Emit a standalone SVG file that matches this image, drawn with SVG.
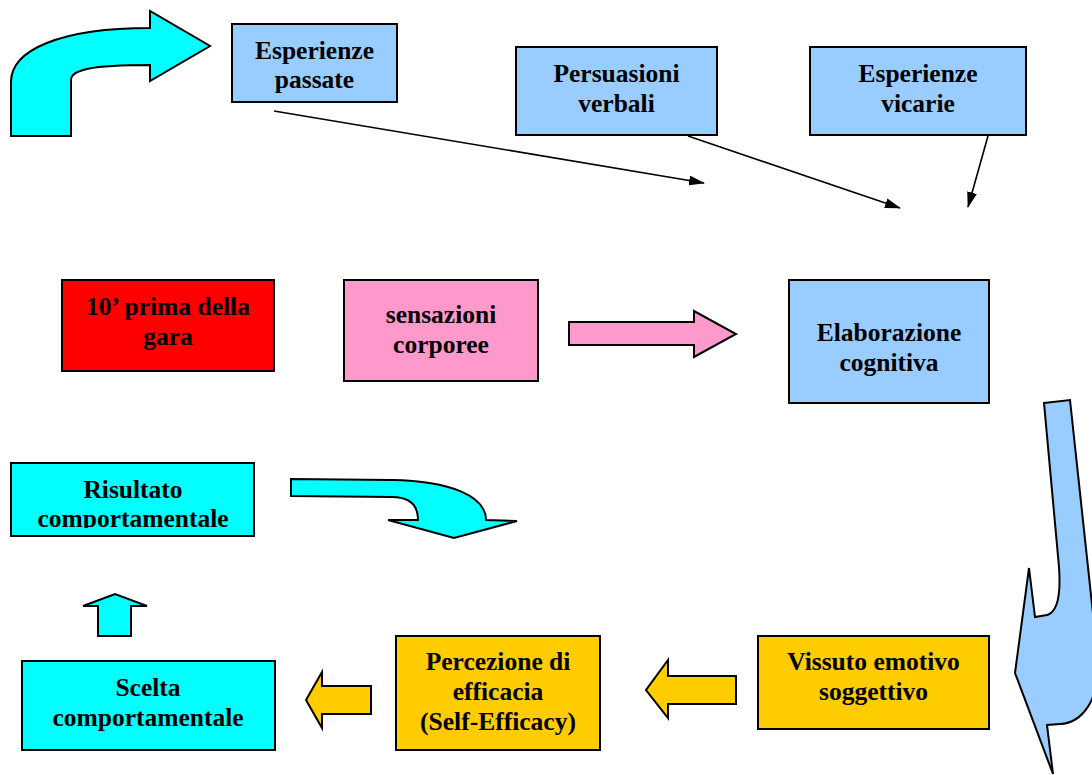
<svg xmlns="http://www.w3.org/2000/svg" width="1092" height="775" viewBox="0 0 1092 775">
<style>
.box{stroke:#000;stroke-width:2}
.blue{fill:#99CCFF}.red{fill:#FF0000}.pink{fill:#FF99CC}.cyan{fill:#00FFFF}.yellow{fill:#FFCC00}
.shape{stroke:#000;stroke-width:2;stroke-linejoin:miter}
.t{font-family:"Liberation Serif","Times New Roman",serif;font-weight:bold;font-size:25.5px;fill:#000;text-anchor:middle}
.conn{stroke:#000;stroke-width:1.6;fill:none}
</style>
<defs>
<marker id="ah" viewBox="0 0 16 10" refX="15" refY="5" markerWidth="16" markerHeight="10" markerUnits="userSpaceOnUse" orient="auto">
<path d="M0,0 L16,5 L0,10 Z" fill="#000"/>
</marker>
<clipPath id="clipRis"><rect x="11" y="463" width="243" height="65"/></clipPath>
</defs>
<rect width="1092" height="775" fill="#fff"/>

<g id="arrow-topleft">
<path class="shape cyan" d="M150,28 C60,28 11,50 11,82 L11,136 L71,136 L71,80 C71,70 90,65 150,65 L150,81 L210,46 L150,11 Z"/>
</g>

<g id="esperienze-passate">
<rect class="box blue" x="232" y="24" width="165" height="78"/>
<text class="t" x="314.5" y="59">Esperienze</text>
<text class="t" x="314.5" y="88">passate</text>
</g>

<g id="persuasioni-verbali">
<rect class="box blue" x="516" y="47" width="201" height="88"/>
<text class="t" x="616.5" y="82">Persuasioni</text>
<text class="t" x="616.5" y="112">verbali</text>
</g>

<g id="esperienze-vicarie">
<rect class="box blue" x="810" y="47" width="216" height="88"/>
<text class="t" x="918" y="82">Esperienze</text>
<text class="t" x="918" y="112">vicarie</text>
</g>

<g id="connectors">
<line class="conn" x1="274" y1="111" x2="704" y2="183" marker-end="url(#ah)"/>
<line class="conn" x1="688" y1="136" x2="900" y2="208" marker-end="url(#ah)"/>
<line class="conn" x1="988" y1="136" x2="968" y2="207" marker-end="url(#ah)"/>
</g>

<g id="prima-gara">
<rect class="box red" x="62" y="280" width="212" height="91"/>
<text class="t" x="168" y="315">10’ prima della</text>
<text class="t" x="168" y="345">gara</text>
</g>

<g id="sensazioni-corporee">
<rect class="box pink" x="344" y="280" width="194" height="101"/>
<text class="t" x="441" y="323">sensazioni</text>
<text class="t" x="441" y="353">corporee</text>
</g>

<g id="arrow-pink">
<path class="shape pink" d="M569,322 L694,322 L694,311 L736,334 L694,357 L694,345 L569,345 Z"/>
</g>

<g id="elaborazione-cognitiva">
<rect class="box blue" x="789" y="280" width="200" height="123"/>
<text class="t" x="889" y="341">Elaborazione</text>
<text class="t" x="889" y="371">cognitiva</text>
</g>

<g id="risultato-comportamentale">
<rect class="box cyan" x="11" y="463" width="243" height="73"/>
<g clip-path="url(#clipRis)">
<text class="t" x="133" y="498">Risultato</text>
<text class="t" x="133" y="527">comportamentale</text>
</g>
</g>

<g id="arrow-cyan-curved">
<path class="shape cyan" d="M291,479 L392,480 C450,481 486,496 486,520 L517,521 L454,538 L388,520 L418,520 C418,505 410,497 392,497 L291,496 Z"/>
</g>

<g id="arrow-up">
<path class="shape cyan" d="M98,636 L98,606 L83,606 L115,594 L147,606 L131,606 L131,636 Z"/>
</g>

<g id="scelta-comportamentale">
<rect class="box cyan" x="22" y="661" width="253" height="89"/>
<text class="t" x="148" y="696">Scelta</text>
<text class="t" x="148" y="726">comportamentale</text>
</g>

<g id="arrow-yellow-1">
<path class="shape yellow" d="M371,686 L322,686 L322,672 L306,700 L322,728 L322,714 L371,714 Z"/>
</g>

<g id="percezione-efficacia">
<rect class="box yellow" x="396" y="636" width="204" height="114"/>
<text class="t" x="498" y="670">Percezione di</text>
<text class="t" x="498" y="700">efficacia</text>
<text class="t" x="498" y="730">(Self-Efficacy)</text>
</g>

<g id="arrow-yellow-2">
<path class="shape yellow" d="M736,676 L668,676 L668,660 L646,690 L668,718 L668,704 L736,704 Z"/>
</g>

<g id="vissuto-emotivo">
<rect class="box yellow" x="758" y="636" width="231" height="93"/>
<text class="t" x="873.5" y="670">Vissuto emotivo</text>
<text class="t" x="873.5" y="700">soggettivo</text>
</g>

<g id="arrow-right-curved">
<path class="shape blue" d="M1044,403 L1070,400 L1098,660 C1100,700 1082,723 1060,724 L1047,725 L1053,774 L1015,673 L1029,568 L1035,617 L1047,615 C1058,612 1061,595 1059,567 Z"/>
</g>
</svg>
